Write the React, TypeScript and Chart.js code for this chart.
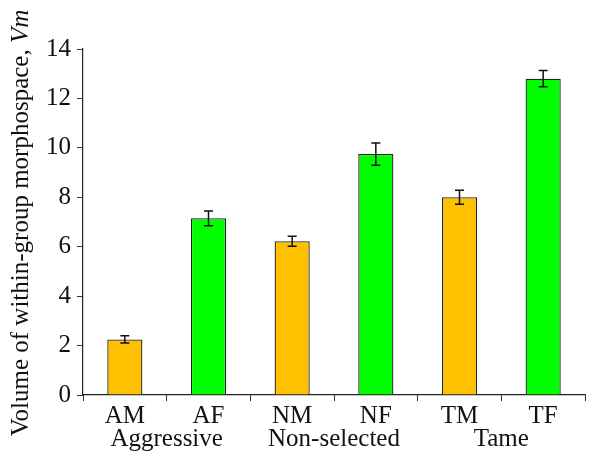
import React, { useEffect, useRef } from "react";
import { Chart, registerables } from "chart.js";

Chart.register(...registerables);

const categories = ["AM", "AF", "NM", "NF", "TM", "TF"];
const groups = ["Aggressive", "Non-selected", "Tame"];
const values = [2.25, 7.15, 6.22, 9.75, 8.0, 12.8];
const errors = [0.15, 0.3, 0.2, 0.45, 0.28, 0.33];
const maleColor = "#FFC000";
const femaleColor = "#00FF00";
const barColors = categories.map((c) => (c.endsWith("M") ? maleColor : femaleColor));
const yTitleMain = "Volume of within-group morphospace, ";
const yTitleItalic = "Vm";

const FAMILY = "Liberation Serif";
const FS = 25;

Chart.defaults.font.family = FAMILY;

const errorBarPlugin = {
  id: "errorBars",
  afterDatasetsDraw(chart: any) {
    const { ctx } = chart;
    const meta = chart.getDatasetMeta(0);
    const yScale = chart.scales.y;
    ctx.save();
    ctx.strokeStyle = "#111";
    ctx.lineWidth = 1.5;
    meta.data.forEach((bar: any, i: number) => {
      const x = bar.x;
      const yTop = yScale.getPixelForValue(values[i] + errors[i]);
      const yBot = yScale.getPixelForValue(values[i] - errors[i]);
      const cap = 4.5;
      ctx.beginPath();
      ctx.moveTo(x, yTop);
      ctx.lineTo(x, yBot);
      ctx.moveTo(x - cap, yTop);
      ctx.lineTo(x + cap, yTop);
      ctx.moveTo(x - cap, yBot);
      ctx.lineTo(x + cap, yBot);
      ctx.stroke();
    });
    ctx.restore();
  },
};

const labelsPlugin = {
  id: "extraLabels",
  afterDraw(chart: any) {
    const { ctx } = chart;
    const xScale = chart.scales.x;
    ctx.save();
    ctx.fillStyle = "#111";
    ctx.font = `${FS}px "${FAMILY}"`;
    ctx.textAlign = "center";
    ctx.textBaseline = "alphabetic";
    groups.forEach((g, k) => {
      const x1 = xScale.getPixelForValue(2 * k);
      const x2 = xScale.getPixelForValue(2 * k + 1);
      ctx.fillText(g, (x1 + x2) / 2, 446);
    });
    // y title
    const normalFont = `${FS}px "${FAMILY}"`;
    const italicFont = `italic ${FS}px "${FAMILY}"`;
    ctx.font = normalFont;
    const w1 = ctx.measureText(yTitleMain).width;
    ctx.font = italicFont;
    const w2 = ctx.measureText(yTitleItalic).width;
    const total = w1 + w2;
    const cx = 28;
    const cy = 223;
    ctx.translate(cx, cy);
    ctx.rotate(-Math.PI / 2);
    ctx.textAlign = "left";
    ctx.font = normalFont;
    ctx.fillText(yTitleMain, -total / 2, 0);
    ctx.font = italicFont;
    ctx.fillText(yTitleItalic, -total / 2 + w1, 0);
    ctx.restore();
  },
};

export default function App() {
  const canvasRef = useRef<HTMLCanvasElement | null>(null);

  useEffect(() => {
    if (!canvasRef.current) return;
    const chart = new Chart(canvasRef.current, {
      type: "bar",
      data: {
        labels: categories,
        datasets: [
          {
            data: values,
            backgroundColor: barColors,
            borderColor: "#222",
            borderWidth: 1.3,
            barPercentage: 0.42,
            categoryPercentage: 1,
          },
        ],
      },
      options: {
        animation: false,
        responsive: true,
        maintainAspectRatio: false,
        layout: { padding: { left: 0, right: 9, top: 49, bottom: 0 } },
        plugins: {
          legend: { display: false },
          tooltip: { enabled: false },
          title: { display: false },
        },
        scales: {
          x: {
            offset: true,
            grid: {
              offset: true,
              drawOnChartArea: false,
              drawTicks: true,
              tickLength: 6,
              color: "#333",
            },
            border: { color: "#222", width: 1.2 },
            ticks: {
              color: "#111",
              font: { family: FAMILY, size: FS },
              padding: 0,
              maxRotation: 0,
            },
            afterFit(scale: any) {
              scale.height = 61;
            },
          },
          y: {
            min: 0,
            max: 14,
            grid: {
              drawOnChartArea: false,
              drawTicks: true,
              tickLength: 6,
              color: "#333",
            },
            border: { color: "#222", width: 1.2 },
            ticks: {
              stepSize: 2,
              color: "#111",
              font: { family: FAMILY, size: FS },
              padding: 6,
            },
            afterFit(scale: any) {
              scale.width = 83;
            },
          },
        },
      },
      plugins: [errorBarPlugin, labelsPlugin],
    });
    let alive = true;
    if ((document as any).fonts && (document as any).fonts.load) {
      Promise.all([
        (document as any).fonts.load(`${FS}px "${FAMILY}"`),
        (document as any).fonts.load(`italic ${FS}px "${FAMILY}"`),
      ])
        .then(() => {
          if (alive) chart.update();
        })
        .catch(() => {});
    }
    return () => {
      alive = false;
      chart.destroy();
    };
  }, []);

  return (
    <div style={{ position: "absolute", left: 0, top: 0, width: 594, height: 456, background: "#fff" }}>
      <canvas ref={canvasRef} />
    </div>
  );
}
